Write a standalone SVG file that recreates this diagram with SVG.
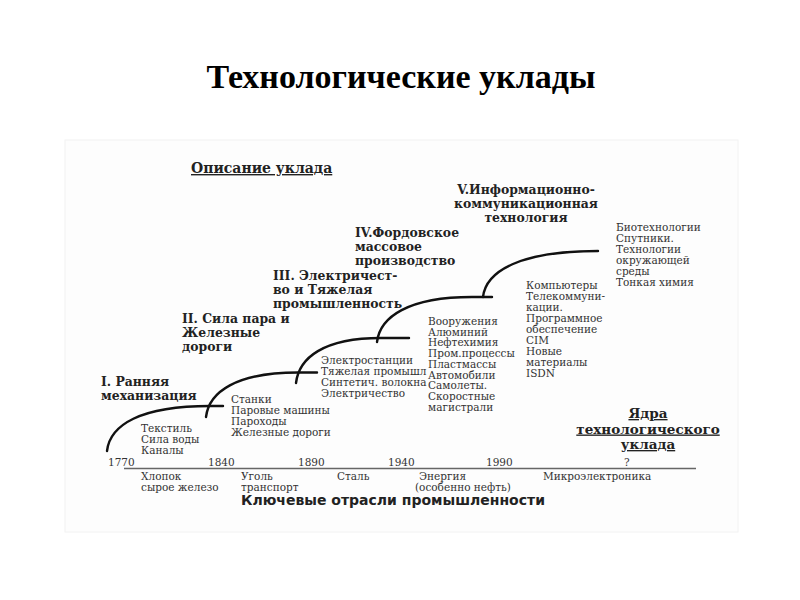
<svg xmlns="http://www.w3.org/2000/svg" width="800" height="600" viewBox="0 0 800 600">
<style>
.title{font-family:"Liberation Serif",serif;font-weight:bold;font-size:34px;fill:#000}
.hd{font-family:"DejaVu Serif",serif;font-weight:bold;font-size:12.4px;fill:#222}
.hdu{font-family:"DejaVu Serif",serif;font-weight:bold;font-size:13.5px;fill:#222;text-decoration:underline}
.tx{font-family:"DejaVu Serif",serif;font-size:10.5px;fill:#333}
.key{font-family:"DejaVu Sans",sans-serif;font-weight:bold;font-size:14px;fill:#222}
.cv{fill:none;stroke:#111;stroke-width:2.4;stroke-linecap:round}
.ax{stroke:#666;stroke-width:1.5}
</style>
<rect width="800" height="600" fill="#fff"/>
<rect x="65" y="140" width="673" height="392" fill="#fdfdfd" stroke="#f2f2f2" stroke-width="1"/>
<text class="title" x="401" y="88" text-anchor="middle">Технологические уклады</text>

<g id="connectors">
<path class="cv" d="M107,451 C110,425 140,406 210,406 L223,406"/>
<path class="cv" d="M206,417 C209,392 236,372.5 298,372.5 L317,372.5"/>
<path class="cv" d="M296,383 C299,358 323,338 381,338 L409,338"/>
<path class="cv" d="M377,342 C380,317 408,297 472,297 L492,297"/>
<path class="cv" d="M483,297 C486,271 520,251 598,251"/>
<line class="ax" x1="124" y1="468.5" x2="696" y2="468.5"/>
</g>

<g id="opisanie"><text class="hdu" x="191" y="173" style="font-size:14px">Описание уклада</text></g>
<g id="yadra">
<text class="hdu" text-anchor="middle" x="648" y="418">Ядра</text>
<text class="hdu" text-anchor="middle" x="648" y="433.5">технологического</text>
<text class="hdu" text-anchor="middle" x="648" y="449">уклада</text>
</g>

<g id="uklad1">
<text class="hd" x="101" y="386">I. Ранняя</text>
<text class="hd" x="101" y="400">механизация</text>
</g>
<g id="uklad2">
<text class="hd" x="182" y="323">II. Сила пара и</text>
<text class="hd" x="182" y="337">Железные</text>
<text class="hd" x="182" y="351">дороги</text>
</g>
<g id="uklad3">
<text class="hd" x="273" y="280">III. Электричест-</text>
<text class="hd" x="273" y="294">во и Тяжелая</text>
<text class="hd" x="273" y="308">промышленность</text>
</g>
<g id="uklad4">
<text class="hd" x="355" y="237">IV.Фордовское</text>
<text class="hd" x="355" y="251">массовое</text>
<text class="hd" x="355" y="265">производство</text>
</g>
<g id="uklad5">
<text class="hd" text-anchor="middle" x="526" y="194">V.Информационно-</text>
<text class="hd" text-anchor="middle" x="526" y="208">коммуникационная</text>
<text class="hd" text-anchor="middle" x="526" y="222">технология</text>
</g>

<g id="yadro1">
<text class="tx" x="141" y="432">Текстиль</text>
<text class="tx" x="141" y="443">Сила воды</text>
<text class="tx" x="141" y="454">Каналы</text>
</g>
<g id="yadro2">
<text class="tx" x="231" y="403">Станки</text>
<text class="tx" x="231" y="414">Паровые машины</text>
<text class="tx" x="231" y="425">Пароходы</text>
<text class="tx" x="231" y="436">Железные дороги</text>
</g>
<g id="yadro3">
<text class="tx" x="321" y="364">Электростанции</text>
<text class="tx" x="321" y="375">Тяжелая промышл</text>
<text class="tx" x="321" y="386">Синтетич. волокна</text>
<text class="tx" x="321" y="397">Электричество</text>
</g>
<g id="yadro4">
<text class="tx" x="428" y="325">Вооружения</text>
<text class="tx" x="428" y="335.7">Алюминий</text>
<text class="tx" x="428" y="346.4">Нефтехимия</text>
<text class="tx" x="428" y="357.1">Пром.процессы</text>
<text class="tx" x="428" y="367.8">Пластмассы</text>
<text class="tx" x="428" y="378.5">Автомобили</text>
<text class="tx" x="428" y="389.2">Самолеты.</text>
<text class="tx" x="428" y="399.9">Скоростные</text>
<text class="tx" x="428" y="410.6">магистрали</text>
</g>
<g id="yadro5">
<text class="tx" x="526" y="289">Компьютеры</text>
<text class="tx" x="526" y="300">Телекоммуни-</text>
<text class="tx" x="526" y="311">кации.</text>
<text class="tx" x="526" y="322">Программное</text>
<text class="tx" x="526" y="333">обеспечение</text>
<text class="tx" x="526" y="344">CIM</text>
<text class="tx" x="526" y="355">Новые</text>
<text class="tx" x="526" y="366">материалы</text>
<text class="tx" x="526" y="377">ISDN</text>
</g>
<g id="yadro6">
<text class="tx" x="616" y="231">Биотехнологии</text>
<text class="tx" x="616" y="242">Спутники.</text>
<text class="tx" x="616" y="253">Технологии</text>
<text class="tx" x="616" y="264">окружающей</text>
<text class="tx" x="616" y="275">среды</text>
<text class="tx" x="616" y="286">Тонкая химия</text>
</g>

<g id="years">
<text class="tx" x="108" y="466">1770</text>
<text class="tx" x="208" y="466">1840</text>
<text class="tx" x="298" y="466">1890</text>
<text class="tx" x="388" y="466">1940</text>
<text class="tx" x="486" y="466">1990</text>
<text class="tx" x="624" y="466">?</text>
</g>
<g id="otrasli">
<text class="tx" x="141" y="480">Хлопок</text>
<text class="tx" x="141" y="491">сырое железо</text>
<text class="tx" x="241" y="480">Уголь</text>
<text class="tx" x="241" y="491">транспорт</text>
<text class="tx" x="337" y="480">Сталь</text>
<text class="tx" x="419" y="480">Энергия</text>
<text class="tx" x="415" y="491">(особенно нефть)</text>
<text class="tx" x="543" y="480">Микроэлектроника</text>
</g>
<g id="klyuch"><text class="key" x="241" y="505">Ключевые отрасли промышленности</text></g>
</svg>
